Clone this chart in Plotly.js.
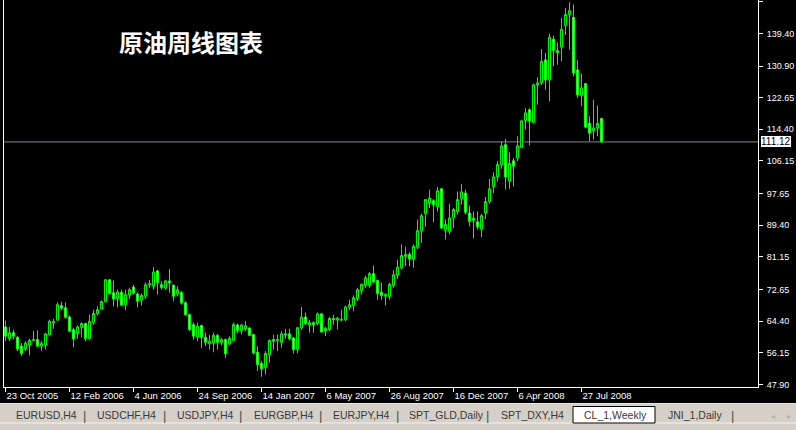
<!DOCTYPE html>
<html><head><meta charset="utf-8">
<script src="https://cdn.plot.ly/plotly-3.0.1.min.js"></script>
<style>html,body{margin:0;padding:0;background:#000;overflow:hidden}#chart{width:796px;height:430px}</style>
</head><body><div id="chart"></div>
<script>
// Weekly CL_1 candles (bar 0 = week of 23 Oct 2005)
const opens = [62.9,59.9,61.4,60.2,57.9,57.2,58.2,59.4,59.6,57.9,
58.1,60.9,64.0,64.7,68.5,67.9,65.5,62.2,61.2,62.8,
63.8,59.9,64.1,66.4,67.6,69.5,75.2,71.8,70.3,71.9,
68.7,71.2,73.3,71.5,69.9,70.9,73.9,73.5,77.5,73.9,
73.0,74.9,73.8,71.5,71.9,69.2,66.1,63.5,60.3,63.3,
60.2,58.6,58.7,60.7,58.9,59.6,58.5,59.4,63.4,62.0,
62.4,62.6,60.9,56.3,53.4,52.4,55.7,59.6,59.4,58.9,
61.1,61.1,60.0,57.0,62.7,65.5,63.4,64.0,63.8,66.3,
61.8,62.2,65.1,64.7,64.7,64.8,68.0,68.5,70.3,72.4,
73.7,73.7,76.8,75.0,71.9,70.9,70.9,73.7,76.4,78.3,
81.3,81.8,80.6,83.7,88.0,92.4,95.2,95.8,94.3,98.9,
88.1,87.8,91.3,93.0,96.3,97.8,92.6,91.2,90.3,88.4,
92.6,95.6,99.5,102.0,105.2,110.4,100.9,106.2,106.9,109.7,
116.7,119.5,116.2,126.0,126.6,132.5,127.3,137.9,134.9,135.8,
141.4,144.3,143.6,129.9,123.2,126.3,116.0,114.1,114.7,117.2];
const highs = [64.6,62.9,62.2,60.5,58.7,59.2,59.8,61.8,62.0,59.2,
61.4,64.8,65.0,69.3,69.5,69.3,65.9,62.7,63.3,64.1,
64.0,66.1,67.4,68.3,69.8,75.4,75.4,75.0,72.6,72.6,
72.6,73.1,73.9,71.9,71.6,74.5,75.2,78.5,77.8,74.8,
75.2,78.0,73.9,73.5,72.2,69.6,66.4,64.1,64.0,63.5,
61.4,60.9,61.4,61.1,60.0,59.9,60.5,64.0,63.8,63.7,
64.4,62.9,61.1,57.9,54.0,56.6,59.6,60.9,60.9,61.8,
62.4,62.4,60.3,62.9,68.1,66.7,64.7,64.4,66.7,66.6,
62.9,65.5,66.1,65.5,67.4,68.5,70.0,71.1,73.1,74.2,
76.3,77.2,78.9,75.2,74.4,71.6,74.4,77.7,80.4,84.4,
83.8,82.4,84.4,90.9,92.4,96.2,98.7,96.2,99.4,99.1,
90.9,95.0,93.9,98.2,100.2,98.7,94.5,93.0,93.0,92.4,
96.8,101.5,103.2,106.1,111.3,111.9,108.4,106.9,112.6,116.9,
119.9,119.9,126.3,128.0,135.3,134.3,139.3,138.8,137.0,143.4,
146.0,147.5,146.9,132.4,128.9,126.5,117.8,122.1,120.6,117.4];
const lows = [59.2,59.2,59.6,56.6,55.3,56.6,55.5,59.2,57.7,56.6,
57.0,60.7,62.4,64.4,67.3,65.1,61.5,57.6,59.8,60.2,
59.2,59.6,63.5,65.9,67.4,69.3,71.3,68.3,68.0,68.3,
67.3,70.2,71.3,68.0,68.5,70.2,73.1,72.6,71.3,72.6,
72.6,71.8,69.6,70.9,68.7,65.9,61.8,59.6,59.2,57.4,
57.9,57.0,56.3,57.0,58.1,54.8,58.1,59.2,61.2,60.9,
61.8,60.5,55.7,51.4,49.9,50.5,53.6,57.0,56.6,57.5,
59.8,59.4,56.0,56.0,62.1,63.3,61.4,61.4,63.3,61.4,
60.5,61.8,63.5,62.2,64.4,64.4,67.3,67.0,69.6,71.3,
73.1,73.1,74.4,70.0,70.0,68.5,70.0,73.1,75.4,77.9,
78.7,78.7,78.3,83.2,84.8,89.0,93.9,90.2,93.0,88.4,
85.7,87.0,88.7,92.2,94.8,92.2,89.1,86.0,88.3,86.3,
91.0,95.0,97.8,100.8,104.1,98.7,98.9,99.5,106.1,109.5,
114.3,110.2,116.0,120.8,126.0,124.7,121.7,130.8,131.2,132.1,
139.0,135.1,128.2,122.6,120.4,114.7,111.3,111.7,112.6,110.9];
const closes = [60.5,61.4,60.5,57.2,56.0,58.7,59.4,59.6,57.9,58.6,
61.1,64.4,64.3,68.7,67.8,65.4,61.8,59.8,62.9,63.8,
59.9,64.4,66.4,67.4,69.5,75.2,71.6,70.2,72.0,68.6,
71.3,72.6,71.8,69.6,71.1,73.9,74.2,77.2,74.5,73.2,
74.9,74.4,70.9,72.6,69.2,66.1,62.2,60.5,63.1,60.2,
58.9,59.2,60.7,58.9,59.6,55.9,59.9,63.5,62.0,63.4,
63.2,60.7,56.2,53.1,52.0,56.0,59.4,59.2,59.6,61.1,
60.9,59.9,57.0,62.7,65.5,63.8,64.0,63.5,66.3,61.6,
62.5,65.1,64.8,65.2,64.8,68.1,68.7,70.5,72.6,74.0,
75.7,76.8,74.6,71.6,71.1,71.4,74.0,76.5,78.5,81.5,
81.8,80.6,83.9,88.0,91.9,96.1,96.5,94.8,98.4,88.7,
89.6,91.3,93.5,96.1,98.1,92.8,90.4,90.7,89.0,91.9,
95.6,98.9,102.0,105.2,110.1,102.0,105.5,104.8,110.1,116.6,
118.7,116.5,126.0,126.5,132.1,127.3,138.4,135.0,134.4,140.5,
144.3,145.3,129.1,123.4,125.2,115.0,113.4,114.7,115.9,111.12];
const xTickBars = [0,16,32,48,64,80,96,112,128,144];
const xTickLabels = ['23 Oct 2005','12 Feb 2006','4 Jun 2006','24 Sep 2006','14 Jan 2007','6 May 2007','26 Aug 2007','16 Dec 2007','6 Apr 2008','27 Jul 2008'];
const yTickValues = [47.90,56.15,64.40,72.65,81.15,89.40,97.65,106.15,114.40,122.65,130.90,139.40,147.65];
const lastPrice = 111.12;
const chartTitle = '原油周线图表';
const tabNames = ['EURUSD,H4','USDCHF,H4','USDJPY,H4','EURGBP,H4','EURJPY,H4','SPT_GLD,Daily','SPT_DXY,H4','CL_1,Weekly','JNI_1,Daily'];

// layout geometry (pixels)
const W=796,H=430,ML=4,MR=38,MT=0,MB=43;
const PW=W-ML-MR, PH=H-MT-MB;
const px = x => (x-ML)/PW;
const py = y => (H-MB-y)/PH;

const bars = opens.map((_,i)=>i);

const trace = {
  type:'candlestick', x:bars, open:opens, high:highs, low:lows, close:closes,
  increasing:{line:{color:'#00ff00',width:1}, fillcolor:'#000000'},
  decreasing:{line:{color:'#00ff00',width:1}, fillcolor:'#ffffff'},
  whiskerwidth:0, hoverinfo:'skip', showlegend:false
};

const tabX = [14,95,175,252,331,407,499,582,666];
const sepX = [84,164,240,320,397,488,732];
const tabY = 415.5;

const annotations = [
  {xref:'paper',yref:'paper',x:px(191),y:py(42),text:chartTitle,showarrow:false,
   font:{family:'Noto Sans CJK SC',size:24,color:'#ffffff',weight:'bold'},xanchor:'center',yanchor:'middle'},
  {xref:'paper',yref:'y',x:px(760),y:lastPrice,text:lastPrice.toFixed(2),showarrow:false,
   xanchor:'left',yanchor:'middle',bgcolor:'#ffffff',bordercolor:'#000000',borderwidth:1,borderpad:0,
   font:{family:'Liberation Sans',size:10,color:'#000000'}}
];
tabNames.forEach((t,k)=>{
  annotations.push({xref:'paper',yref:'paper',x:px(tabX[k]),y:py(tabY),text:t,showarrow:false,
    xanchor:'left',yanchor:'middle',font:{family:'Liberation Sans',size:10.5,color:'#3a3a3a'}});
});
sepX.forEach(x=>{
  annotations.push({xref:'paper',yref:'paper',x:px(x),y:py(tabY),text:'|',showarrow:false,
    xanchor:'center',yanchor:'middle',font:{family:'Liberation Sans',size:13,color:'#505050'}});
});
annotations.push({xref:'paper',yref:'paper',x:px(773),y:py(416),text:'◂',showarrow:false,xanchor:'center',yanchor:'middle',font:{family:'DejaVu Sans',size:8,color:'#b0b0b0'}});
annotations.push({xref:'paper',yref:'paper',x:px(789),y:py(416),text:'▸',showarrow:false,xanchor:'center',yanchor:'middle',font:{family:'DejaVu Sans',size:8,color:'#b0b0b0'}});

const shapes = [
  {type:'line',xref:'paper',yref:'y',x0:0,x1:1,y0:lastPrice,y1:lastPrice,line:{color:'#778899',width:1}},
  {type:'rect',xref:'paper',yref:'paper',x0:px(0),x1:px(796),y0:py(403),y1:py(431),fillcolor:'#d4d0c8',line:{width:0},layer:'above'},
  {type:'line',xref:'paper',yref:'paper',x0:px(0),x1:px(796),y0:py(403.5),y1:py(403.5),line:{color:'#e8e6e0',width:1},layer:'above'},
  {type:'line',xref:'paper',yref:'paper',x0:px(0),x1:px(796),y0:py(423),y1:py(423),line:{color:'#f4f2ee',width:1},layer:'above'},
  {type:'rect',xref:'paper',yref:'paper',x0:px(573),x1:px(655),y0:py(406.5),y1:py(423),fillcolor:'#ffffff',line:{color:'#000000',width:1},layer:'above'}
];

const layout = {
  width:W,height:H,margin:{l:ML,r:MR,t:MT,b:MB,pad:0},
  paper_bgcolor:'#000000',plot_bgcolor:'#000000',showlegend:false,boxgap:0.25,
  xaxis:{range:[-0.375,188.125],tickmode:'array',tickvals:xTickBars,ticktext:xTickLabels,tickangle:0,
    ticks:'outside',ticklen:4,tickcolor:'#ffffff',showgrid:false,zeroline:false,
    showline:true,linecolor:'#ffffff',linewidth:1,ticklabelposition:'outside right',
    tickfont:{family:'Liberation Sans',size:9.5,color:'#ffffff'},rangeslider:{visible:false},fixedrange:true},
  yaxis:{side:'right',range:[47.25,148.1],tickmode:'array',tickvals:yTickValues,
    ticktext:yTickValues.map(v=>v.toFixed(2)),ticks:'outside',ticklen:4,tickcolor:'#ffffff',ticklabelstandoff:2,
    showgrid:false,zeroline:false,showline:true,mirror:true,linecolor:'#ffffff',linewidth:1,
    tickfont:{family:'Liberation Sans',size:9,color:'#ffffff'},fixedrange:true},
  shapes:shapes, annotations:annotations
};
Plotly.newPlot('chart',[trace],layout,{displayModeBar:false,staticPlot:true});
</script></body></html>
